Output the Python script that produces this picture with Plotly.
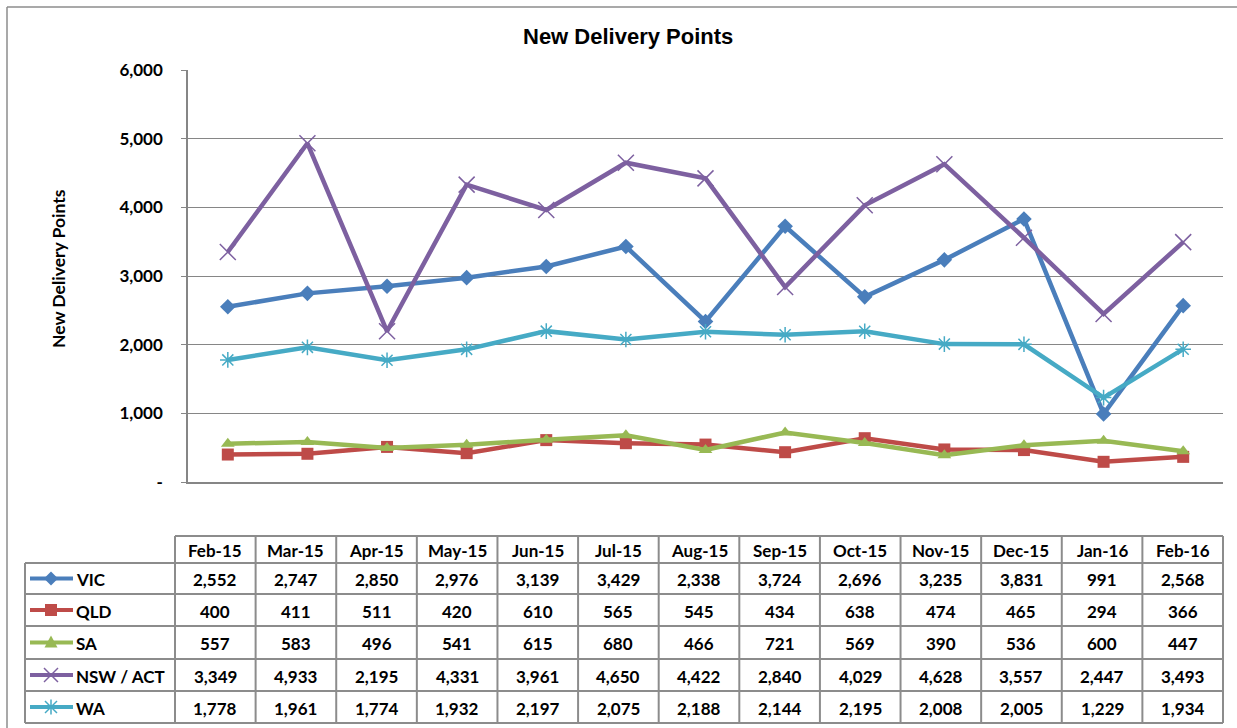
import plotly.graph_objects as go

months = ["Feb-15", "Mar-15", "Apr-15", "May-15", "Jun-15", "Jul-15", "Aug-15",
          "Sep-15", "Oct-15", "Nov-15", "Dec-15", "Jan-16", "Feb-16"]
vic = [2552, 2747, 2850, 2976, 3139, 3429, 2338, 3724, 2696, 3235, 3831, 991, 2568]
qld = [400, 411, 511, 420, 610, 565, 545, 434, 638, 474, 465, 294, 366]
sa = [557, 583, 496, 541, 615, 680, 466, 721, 569, 390, 536, 600, 447]
nsw = [3349, 4933, 2195, 4331, 3961, 4650, 4422, 2840, 4029, 4628, 3557, 2447, 3493]
wa = [1778, 1961, 1774, 1932, 2197, 2075, 2188, 2144, 2195, 2008, 2005, 1229, 1934]
series_names = ["VIC", "QLD", "SA", "NSW / ACT", "WA"]
y_ticks = [0, 1000, 2000, 3000, 4000, 5000, 6000]
y_tick_labels = ["-", "1,000", "2,000", "3,000", "4,000", "5,000", "6,000"]

W, H = 1237, 728
def px(x):
    return x / W
def py(y):
    return 1 - y / H

styles = [
    dict(color="#4A7EBB", symbol="diamond", size=12, lw=0),
    dict(color="#BE4B48", symbol="square", size=12, lw=0),
    dict(color="#98B954", symbol="triangle-up", size=12, lw=0),
    dict(color="#7D60A0", symbol="x-thin", size=16, lw=1.5),
    dict(color="#46AAC5", symbol="asterisk", size=13, lw=1.5),
]
data = [vic, qld, sa, nsw, wa]

fig = go.Figure()
for name, vals, st in zip(series_names, data, styles):
    mk = dict(symbol=st["symbol"], size=st["size"], color=st["color"])
    if st["lw"]:
        mk["line"] = dict(color=st["color"], width=st["lw"])
    fig.add_trace(go.Scatter(x=months, y=vals, name=name, mode="lines+markers",
                             line=dict(color=st["color"], width=4.5), marker=mk,
                             showlegend=False, cliponaxis=False))

# plot area pixel bounds
PL, PR, PT, PB = 188, 1223, 70, 482

fig.update_layout(
    width=W, height=H, autosize=False,
    margin=dict(l=0, r=0, t=0, b=0, pad=0),
    paper_bgcolor="white", plot_bgcolor="rgba(0,0,0,0)",
    xaxis=dict(domain=[px(PL), px(PR)], range=[-0.5, 12.5], type="category",
               showticklabels=False, showgrid=False, zeroline=False,
               showline=True, linecolor="#868686", linewidth=1.5, ticks=""),
    yaxis=dict(domain=[py(PB), py(PT)], range=[0, 6000], tickvals=y_ticks,
               ticktext=y_tick_labels, showgrid=True, gridcolor="#868686",
               gridwidth=1.2, zeroline=False, showline=True, linecolor="#868686",
               linewidth=1.5, ticks="outside", ticklen=5, tickcolor="#868686",
               automargin=False, ticklabelstandoff=15,
               tickfont=dict(family="Lato", size=17, color="black", weight="bold")),
)

# title and axis title
fig.add_annotation(text="New Delivery Points", x=px(628), y=py(36), xref="paper", yref="paper",
                   xanchor="center", yanchor="middle", showarrow=False,
                   font=dict(family="Liberation Sans", size=22, color="black", weight="bold"))
fig.add_annotation(text="New Delivery Points", x=px(58), y=py(269), xref="paper", yref="paper",
                   xanchor="center", yanchor="middle", showarrow=False, textangle=-90,
                   font=dict(family="Lato", size=17.5, color="black", weight="bold"))

shapes = []
# outer chart border
shapes.append(dict(type="line", xref="paper", yref="paper", x0=px(7), x1=px(7), y0=py(7), y1=0,
                   line=dict(color="#8c8c8c", width=1.5)))
shapes.append(dict(type="line", xref="paper", yref="paper", x0=px(7), x1=1, y0=py(7), y1=py(7),
                   line=dict(color="#8c8c8c", width=1.5)))

# data table
TL, TR = 175, 1223
col_w = (TR - TL) / len(months)
col_edges = [TL + i * col_w for i in range(len(months) + 1)]
row_edges = [536, 563, 594, 626, 659, 691, 723]
LEG_L = 25
bc = "#8c8c8c"
def hline(x0, x1, y):
    shapes.append(dict(type="line", xref="paper", yref="paper", x0=px(x0), x1=px(x1), y0=py(y), y1=py(y),
                       line=dict(color=bc, width=2)))
def vline(x, y0, y1):
    shapes.append(dict(type="line", xref="paper", yref="paper", x0=px(x), x1=px(x), y0=py(y0), y1=py(y1),
                       line=dict(color=bc, width=2)))
hline(TL, TR, row_edges[0])
for y in row_edges[1:]:
    hline(LEG_L, TR, y)
for x in col_edges:
    vline(x, row_edges[0], row_edges[-1])
vline(LEG_L, row_edges[1], row_edges[-1])

tfont = dict(family="Lato", size=17, color="black", weight="bold")
for i, m in enumerate(months):
    cx = (col_edges[i] + col_edges[i + 1]) / 2
    fig.add_annotation(text=m, x=px(cx), y=py((row_edges[0] + row_edges[1]) / 2 + 1), xref="paper", yref="paper",
                       xanchor="center", yanchor="middle", showarrow=False, font=tfont)

def key_shapes(kind, color, cx, cy):
    out = []
    def line(x0, y0, x1, y1, w):
        out.append(dict(type="line", xref="paper", yref="paper", x0=px(x0), y0=py(y0), x1=px(x1), y1=py(y1),
                        line=dict(color=color, width=w)))
    def path(pts):
        d = "M " + " L ".join(f"{px(a)},{py(b)}" for a, b in pts) + " Z"
        out.append(dict(type="path", xref="paper", yref="paper", path=d, fillcolor=color,
                        line=dict(color=color, width=0)))
    line(30, cy, 73, cy, 4)
    if kind == "diamond":
        path([(cx, cy - 7), (cx + 7, cy), (cx, cy + 7), (cx - 7, cy)])
    elif kind == "square":
        path([(cx - 6, cy - 6), (cx + 6, cy - 6), (cx + 6, cy + 6), (cx - 6, cy + 6)])
    elif kind == "triangle-up":
        path([(cx, cy - 7), (cx + 6.5, cy + 5), (cx - 6.5, cy + 5)])
    elif kind == "x-thin":
        line(cx - 7, cy - 7, cx + 7, cy + 7, 1.5)
        line(cx - 7, cy + 7, cx + 7, cy - 7, 1.5)
    elif kind == "asterisk":
        line(cx - 6, cy - 6, cx + 6, cy + 6, 1.5)
        line(cx - 6, cy + 6, cx + 6, cy - 6, 1.5)
        line(cx, cy - 7.5, cx, cy + 7.5, 1.5)
    return out

for r, (name, vals, st) in enumerate(zip(series_names, data, styles)):
    cy = (row_edges[r + 1] + row_edges[r + 2]) / 2
    for i, v in enumerate(vals):
        cx = (col_edges[i] + col_edges[i + 1]) / 2
        fig.add_annotation(text=f"{v:,}", x=px(cx), y=py(cy + 1), xref="paper", yref="paper",
                           xanchor="center", yanchor="middle", showarrow=False, font=tfont)
    fig.add_annotation(text=name, x=px(74), y=py(cy + 1), xref="paper", yref="paper",
                       xanchor="left", yanchor="middle", showarrow=False, font=tfont)
    shapes.extend(key_shapes(st["symbol"], st["color"], 51, cy))

fig.update_layout(shapes=shapes)
fig.write_html("out.html", config={"displayModeBar": False},
               post_script="document.body.style.margin='0';document.body.style.overflow='hidden';")
